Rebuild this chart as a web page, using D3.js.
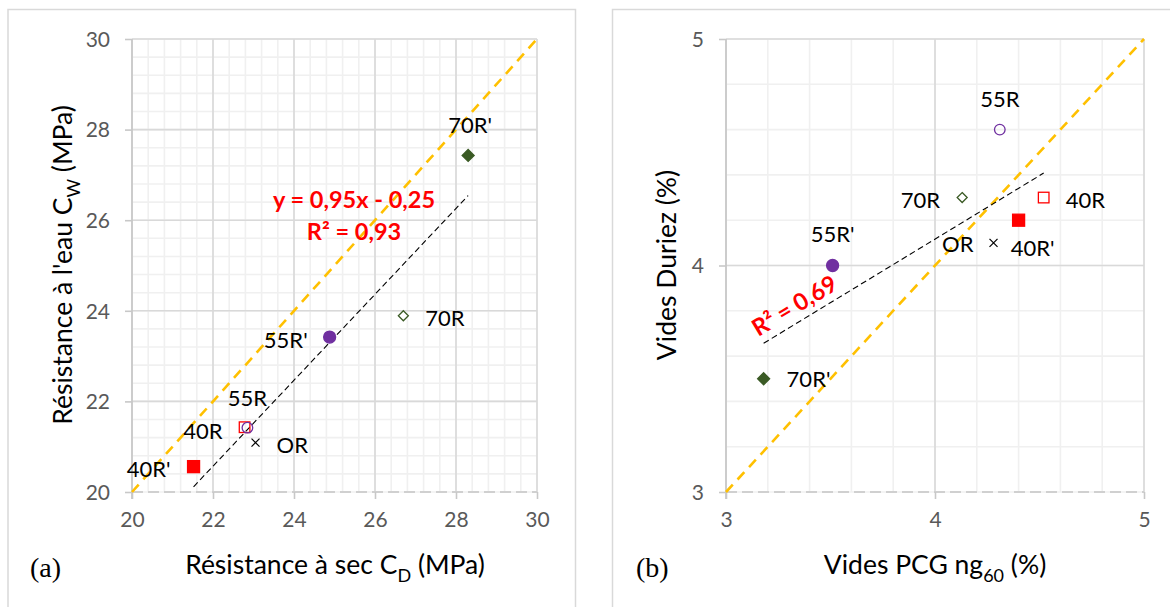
<!DOCTYPE html>
<html>
<head>
<meta charset="utf-8">
<script src="https://cdn.jsdelivr.net/npm/d3@7"></script>
<style>
  html, body { margin: 0; padding: 0; background: #fff; }
  svg { display: block; }
</style>
</head>
<body>
<div id="chart"></div>
<script>
// ---------------- DATA ----------------
const sampleNames = ["70R'", "70R", "55R'", "55R", "40R", "OR", "40R'"];
// panel (a): dry strength C_D vs wet strength C_W (MPa)
const dryStrength = [28.30, 26.70, 24.88, 22.85, 22.78, 23.05, 21.52];
const wetStrength = [27.43, 23.89, 23.42, 21.42, 21.43, 21.09, 20.56];
// panel (b): PCG voids ng60 vs Duriez voids (%)
const pcgVoids    = [3.18, 4.13, 3.51, 4.31, 4.52, 4.28, 4.40];
const duriezVoids = [3.50, 4.30, 4.00, 4.60, 4.30, 4.10, 4.20];

const ticksA = [20, 22, 24, 26, 28, 30];
const ticksB = [3, 4, 5];
const equationA = ["y = 0,95x - 0,25", "R² = 0,93"];
const equationB = ["R² = 0,69"];
const panelTags = ["(a)", "(b)"];

// ---------------- STYLE / LAYOUT ----------------
const markerStyle = {
  "70R'": {shape: "diamond", fill: "#3a5a24", stroke: "#3a5a24", size: 6},
  "70R":  {shape: "diamond", fill: "#fff", stroke: "#3a5a24", size: 5},
  "55R'": {shape: "circle", fill: "#7030a0", stroke: "#7030a0", size: 6},
  "55R":  {shape: "circle", fill: "none", stroke: "#7030a0", size: 5.3},
  "40R":  {shape: "square", fill: "none", stroke: "#ff0000", size: 5.3},
  "OR":   {shape: "cross", fill: "none", stroke: "#000", size: 4},
  "40R'": {shape: "square", fill: "#ff0000", stroke: "#ff0000", size: 6}
};
// draw order (open square under open circle)
const drawOrder = ["70R'", "70R", "55R'", "40R", "55R", "OR", "40R'"];

// label offsets in px: [dx, dy, anchor]
const labelPosA = {
  "70R'": [2, -31, "middle"], "70R": [22, 2, "start"], "55R'": [-22, 2, "end"],
  "55R": [0, -30, "middle"], "40R": [-22, 3, "end"], "OR": [21, 2, "start"],
  "40R'": [-23, 2, "end"]
};
const labelPosB = {
  "70R'": [23, 0, "start"], "70R": [-22, 2, "end"], "55R'": [0, -32, "middle"],
  "55R": [0, -31, "middle"], "40R": [22, 2, "start"], "OR": [-20, 1, "end"],
  "40R'": [14, 27, "middle"]
};

const W = 1170, H = 607;
const FONT = "Lato, 'Open Sans', sans-serif";

const svg = d3.select("#chart").append("svg").attr("width", W).attr("height", H)
  .style("font-family", FONT);

// panel frames
svg.append("rect").attr("x", 8).attr("y", 9.5).attr("width", 567.5).attr("height", 620)
  .attr("fill", "none").attr("stroke", "#d9d9d9").attr("stroke-width", 1.5);
svg.append("rect").attr("x", 612.5).attr("y", 9.5).attr("width", 600).attr("height", 620)
  .attr("fill", "none").attr("stroke", "#d9d9d9").attr("stroke-width", 1.5);

function linreg(xs, ys) {
  const mx = d3.mean(xs), my = d3.mean(ys);
  let sxy = 0, sxx = 0;
  xs.forEach((x, i) => { sxy += (x - mx) * (ys[i] - my); sxx += (x - mx) ** 2; });
  const m = sxy / sxx;
  return {m, b: my - m * mx};
}

function drawMarker(g, x, y, st) {
  const s = st.size;
  if (st.shape === "circle") {
    g.append("circle").attr("cx", x).attr("cy", y).attr("r", s)
      .attr("fill", st.fill).attr("stroke", st.stroke).attr("stroke-width", 1.3);
  } else if (st.shape === "square") {
    g.append("rect").attr("x", x - s).attr("y", y - s).attr("width", 2 * s).attr("height", 2 * s)
      .attr("fill", st.fill).attr("stroke", st.stroke).attr("stroke-width", 1.3);
  } else if (st.shape === "diamond") {
    g.append("path").attr("d", `M${x},${y - s}L${x + s},${y}L${x},${y + s}L${x - s},${y}Z`)
      .attr("fill", st.fill).attr("stroke", st.stroke).attr("stroke-width", 1.3);
  } else if (st.shape === "cross") {
    g.append("path").attr("d", `M${x - s},${y - s}L${x + s},${y + s}M${x - s},${y + s}L${x + s},${y - s}`)
      .attr("stroke", st.stroke).attr("stroke-width", 1.2);
  }
}

function panel(opt) {
  const g = svg.append("g");
  const x = d3.scaleLinear().domain(opt.domain).range([opt.x0, opt.x1]);
  const y = d3.scaleLinear().domain(opt.domain).range([opt.y0, opt.y1]);
  const [d0, d1] = opt.domain;
  const minor = d3.range(d0, d1 + 1e-9, opt.minorStep);

  // minor grid
  g.append("g").selectAll("line.mx").data(minor).join("line")
    .attr("x1", d => x(d)).attr("x2", d => x(d)).attr("y1", opt.y0).attr("y2", opt.y1)
    .attr("stroke", "#f0f0f0").attr("stroke-width", 1.6);
  g.append("g").selectAll("line.my").data(minor).join("line")
    .attr("y1", d => y(d)).attr("y2", d => y(d)).attr("x1", opt.x0).attr("x2", opt.x1)
    .attr("stroke", "#f0f0f0").attr("stroke-width", 1.6);
  // major grid
  g.append("g").selectAll("line").data(opt.ticks.slice(1)).join("line")
    .attr("x1", d => x(d)).attr("x2", d => x(d)).attr("y1", opt.y0).attr("y2", opt.y1)
    .attr("stroke", "#d9d9d9").attr("stroke-width", 1.6);
  g.append("g").selectAll("line").data(opt.ticks.slice(1)).join("line")
    .attr("y1", d => y(d)).attr("y2", d => y(d)).attr("x1", opt.x0).attr("x2", opt.x1)
    .attr("stroke", "#d9d9d9").attr("stroke-width", 1.6);

  // x axis (dashed line) with ticks
  g.append("line").attr("x1", opt.x0).attr("x2", opt.x1).attr("y1", opt.y0).attr("y2", opt.y0)
    .attr("stroke", "#d0d0d0").attr("stroke-width", 2).attr("stroke-dasharray", "11,5");
  const xAxis = d3.axisBottom(x).tickValues(opt.ticks).tickSize(7).tickPadding(13).tickFormat(d3.format("d"));
  const xa = g.append("g").attr("transform", `translate(0,${opt.y0})`).call(xAxis);
  xa.select(".domain").remove();
  xa.selectAll(".tick line").attr("stroke", "#c8c8c8").attr("stroke-width", 1.6);
  xa.selectAll(".tick text").attr("fill", "#595959").style("font-size", "21px").style("font-family", FONT);

  // y axis
  const yAxis = d3.axisLeft(y).tickValues(opt.ticks).tickSize(7).tickPadding(15).tickFormat(d3.format("d"));
  const ya = g.append("g").attr("transform", `translate(${opt.x0},0)`).call(yAxis);
  ya.select(".domain").attr("stroke", "#c8c8c8").attr("stroke-width", 1.8)
    .attr("d", `M0,${opt.y1}V${opt.y0 + 7}`);
  ya.selectAll(".tick line").attr("stroke", "#c8c8c8").attr("stroke-width", 1.6);
  ya.selectAll(".tick text").attr("fill", "#595959").style("font-size", "21px").style("font-family", FONT)
    .attr("dy", "0.35em");

  // 1:1 line
  g.append("line").attr("x1", x(d0)).attr("y1", y(d0)).attr("x2", x(d1)).attr("y2", y(d1))
    .attr("stroke", "#ffc000").attr("stroke-width", 2.6).attr("stroke-dasharray", "10,7");

  // trend line (least squares over data)
  const fit = linreg(opt.xs, opt.ys);
  const [ex0, ex1] = d3.extent(opt.xs);
  g.append("line").attr("x1", x(ex0)).attr("y1", y(fit.m * ex0 + fit.b))
    .attr("x2", x(ex1)).attr("y2", y(fit.m * ex1 + fit.b))
    .attr("stroke", "#000").attr("stroke-width", 1.1).attr("stroke-dasharray", "6,3.5");

  // markers
  drawOrder.forEach(name => {
    const i = sampleNames.indexOf(name);
    drawMarker(g, x(opt.xs[i]), y(opt.ys[i]), markerStyle[name]);
  });
  // labels
  sampleNames.forEach((name, i) => {
    const p = opt.labelPos[name];
    g.append("text").attr("x", x(opt.xs[i]) + p[0]).attr("y", y(opt.ys[i]) + p[1])
      .attr("text-anchor", p[2]).attr("dominant-baseline", "central")
      .style("font-size", "22px").attr("fill", "#000").text(name);
  });

  // axis titles
  const xt = g.append("text").attr("x", opt.xTitlePos[0]).attr("y", opt.xTitlePos[1])
    .attr("text-anchor", "middle").attr("dominant-baseline", "central")
    .style("font-size", "26.5px").attr("fill", "#000");
  xt.append("tspan").text(opt.xTitle[0]);
  xt.append("tspan").attr("baseline-shift", "sub").style("font-size", "18px").text(opt.xTitle[1]);
  xt.append("tspan").text(opt.xTitle[2]);

  const yt = g.append("text")
    .attr("transform", `translate(${opt.yTitlePos[0]},${opt.yTitlePos[1]}) rotate(-90)`)
    .attr("text-anchor", "middle").attr("dominant-baseline", "central")
    .style("font-size", "26.5px").attr("fill", "#000");
  yt.append("tspan").text(opt.yTitle[0]);
  if (opt.yTitle.length > 1) {
    yt.append("tspan").attr("baseline-shift", "sub").style("font-size", "18px").text(opt.yTitle[1]);
    yt.append("tspan").text(opt.yTitle[2]);
  }

  // panel tag
  g.append("text").attr("x", opt.tagPos[0]).attr("y", opt.tagPos[1])
    .attr("dominant-baseline", "central")
    .style("font-family", "'Liberation Serif', 'Times New Roman', serif").style("font-size", "28px")
    .attr("fill", "#000").text(opt.tag);
  return g;
}

const gA = panel({
  domain: [20, 30], ticks: ticksA, minorStep: 0.4,
  x0: 132, x1: 537, y0: 492, y1: 39,
  xs: dryStrength, ys: wetStrength, labelPos: labelPosA,
  xTitle: ["Résistance à sec C", "D", " (MPa)"], xTitlePos: [335, 564],
  yTitle: ["Résistance à l'eau C", "W", " (MPa)"], yTitlePos: [62, 265],
  tag: panelTags[0], tagPos: [30, 567]
});
gA.selectAll("text.eq").data(equationA).join("text")
  .attr("x", 354).attr("y", (d, i) => 199 + i * 32)
  .attr("text-anchor", "middle").attr("dominant-baseline", "central")
  .style("font-size", "23.5px").style("font-weight", "bold").attr("fill", "#ff0000").text(d => d);

const gB = panel({
  domain: [3, 5], ticks: ticksB, minorStep: 0.2,
  x0: 726, x1: 1144, y0: 492, y1: 39,
  xs: pcgVoids, ys: duriezVoids, labelPos: labelPosB,
  xTitle: ["Vides PCG ng", "60", " (%)"], xTitlePos: [935, 564],
  yTitle: ["Vides Duriez (%)"], yTitlePos: [666, 265],
  tag: panelTags[1], tagPos: [636, 567]
});
gB.selectAll("text.eq").data(equationB).join("text")
  .attr("transform", "translate(794,305) rotate(-31)")
  .attr("text-anchor", "middle").attr("dominant-baseline", "central")
  .style("font-size", "23.5px").style("font-weight", "bold").attr("fill", "#ff0000").text(d => d);
</script>
</body>
</html>
